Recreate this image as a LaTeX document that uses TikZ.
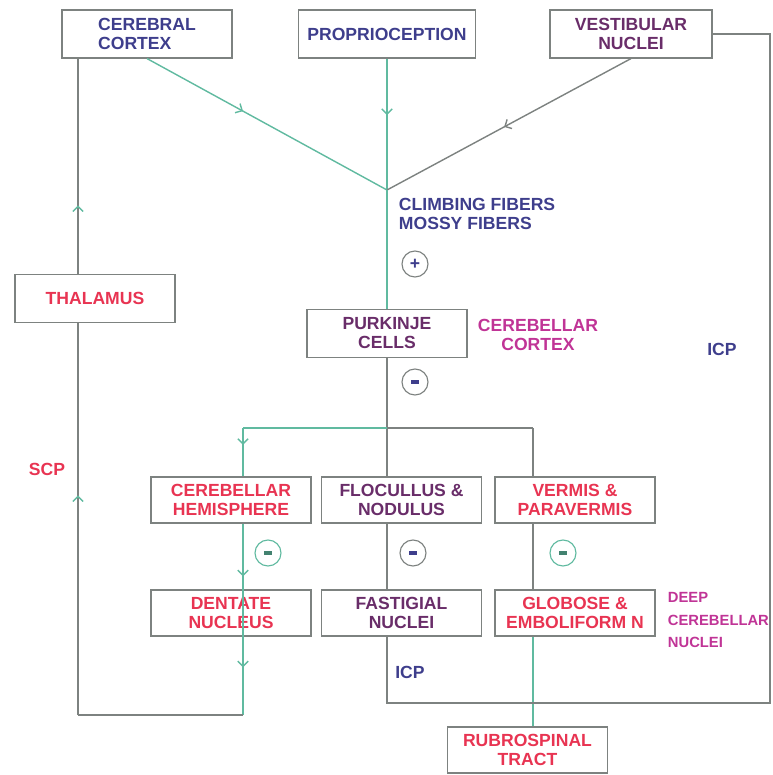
\documentclass[tikz,border=0pt]{standalone}
\usepackage{fontspec}
\setmainfont{Liberation Sans}
\usetikzlibrary{arrows.meta,decorations.markings}
\definecolor{txtblue}{RGB}{62,62,140}
\definecolor{txtred}{RGB}{232,52,82}
\definecolor{txtpink}{RGB}{192,52,150}
\definecolor{txtpurp}{RGB}{105,45,105}
\definecolor{fibteal}{RGB}{96,186,160}
\definecolor{fibgray}{RGB}{125,130,128}
\newcommand{\minussign}{\rule[-1pt]{5pt}{2.2pt}}
\tikzset{
  box/.style={draw=fibgray, line width=0.8pt, minimum width=4cm, minimum height=1.15cm, inner sep=1pt, align=center},
  tealline/.style={draw=fibteal, line width=1pt},
  grayline/.style={draw=fibgray, line width=1pt},
  midarrow/.style 2 args={postaction={decorate}, decoration={markings, mark=at position #1 with {\arrow[#2]{Straight Barb[length=1.3mm,width=2.6mm]}}}},
  sign/.style={circle, draw=fibgray, line width=0.8pt, minimum size=0.65cm, inner sep=0pt, text=txtblue}
}
\begin{document}
\begin{tikzpicture}[x=0.025cm, y=-0.025cm, every node/.style={font=\fontsize{12.5}{13.5}\selectfont\bfseries}]
\useasboundingbox (0,0) rectangle (772,775);
% boxes
\node[box, minimum width=4.25cm, minimum height=1.2cm, text=txtblue, align=left] (cortex) at (147,34) {CEREBRAL\\CORTEX};
\node[box, minimum width=4.42cm, minimum height=1.2cm, text=txtblue] (proprio) at (387,34) {PROPRIOCEPTION};
\node[box, minimum width=4.05cm, minimum height=1.2cm, text=txtpurp] (vestib) at (631,34) {VESTIBULAR\\NUCLEI};
\node[box, minimum height=1.18cm, text=txtred] (thal) at (95,298.5) {THALAMUS};
\node[box, minimum height=1.18cm, text=txtpurp] (purk) at (387,333.5) {PURKINJE\\CELLS};
\node[box, text=txtred] (hemi) at (231,500) {CEREBELLAR\\HEMISPHERE};
\node[box, text=txtpurp] (floc) at (401.5,500) {FLOCULLUS \&\\NODULUS};
\node[box, text=txtred] (verm) at (575,500) {VERMIS \&\\PARAVERMIS};
\node[box, text=txtred] (dent) at (231,613) {DENTATE\\NUCLEUS};
\node[box, text=txtpurp] (fast) at (401.5,613) {FASTIGIAL\\NUCLEI};
\node[box, text=txtred] (glob) at (575,613) {GLOBOSE \&\\EMBOLIFORM N};
\node[box, text=txtred] (rubro) at (527.5,750) {RUBROSPINAL\\TRACT};
% turning points
\coordinate (jn) at (387,190);
\coordinate (brL) at (243,428);
\coordinate (brR) at (533,428);
\coordinate (scpB) at (243,715);
\coordinate (scpL) at (78,715);
\coordinate (icpB) at (387,703);
\coordinate (icpR) at (770,703);
% inputs
\draw[tealline, midarrow={0.4}{fibteal}] (cortex.south) -- (jn);
\draw[tealline, midarrow={0.43}{fibteal}] (proprio.south) -- (jn);
\draw[grayline, midarrow={0.52}{fibgray}] (vestib.south) -- (jn);
\draw[tealline] (jn) -- (purk.north);
\draw[grayline] (purk.south) -- (purk.south |- floc.north);
% branches
\draw[tealline] (brL) -- (jn |- brL);
\draw[grayline] (jn |- brL) -- (brR);
\draw[tealline, midarrow={0.35}{fibteal}] (brL) -- (brL |- hemi.north);
\draw[grayline] (brR) -- (brR |- verm.north);
\draw[tealline, midarrow={0.8}{fibteal}] (brL |- hemi.south) -- (brL |- dent.north);
\draw[grayline] (purk.south |- floc.south) -- (purk.south |- fast.north);
\draw[grayline] (brR |- verm.south) -- (brR |- glob.north);
\draw[tealline] (brR |- glob.south) -- (rubro.north -| brR);
% SCP loop
\draw[tealline, midarrow={0.62}{fibteal}] (brL |- dent.north) -- (scpB);
\draw[grayline] (scpB) -- (scpL);
\draw[grayline, midarrow={0.56}{fibteal}] (scpL) -- (scpL |- thal.south);
\draw[grayline, midarrow={0.32}{fibteal}] (scpL |- thal.north) -- (scpL |- cortex.south);
% ICP loop
\draw[grayline] (purk.south |- fast.south) -- (icpB) -- (icpR) -- (icpR |- vestib.east) -- (vestib.east);
% signs
\node[sign] (plus) at (415,264) {+};
\node[sign] (mPurk) at (415,382) {\minussign};
\node[sign, draw=fibteal, text=fibteal!70!black] (mHemi) at (268,553) {\minussign};
\node[sign] (mFloc) at (413,553) {\minussign};
\node[sign, draw=fibteal, text=fibteal!70!black] (mVerm) at (563,553) {\minussign};
% labels
\node[text=txtblue, align=left, anchor=west] (fibers) at (394,214) {CLIMBING FIBERS\\MOSSY FIBERS};
\node[text=txtpink, align=center] (cbcortex) at (538,335) {CEREBELLAR\\CORTEX};
\node[text=txtblue] (icpTop) at (722,349) {ICP};
\node[text=txtred] (scp) at (47,469) {SCP};
\node[text=txtpink, align=left, anchor=west, font=\fontsize{10.5}{16}\selectfont\bfseries] (deep) at (663,620) {DEEP\\CEREBELLAR\\NUCLEI};
\node[text=txtblue] (icpBot) at (410,672) {ICP};
\end{tikzpicture}
\end{document}
